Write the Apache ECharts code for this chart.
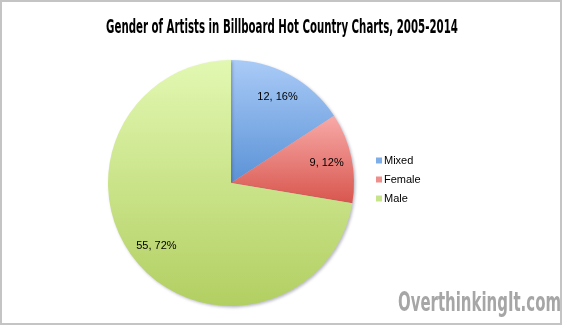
<!DOCTYPE html>
<html>
<head>
<meta charset="utf-8">
<script src="https://cdn.jsdelivr.net/npm/echarts@6/dist/echarts.min.js"></script>
<style>
html,body{margin:0;padding:0;background:#fff;}
#c{width:562px;height:325px;box-sizing:border-box;border:2px solid #c4c4c4;}
</style>
</head>
<body>
<div id="c"></div>
<script>
const categories = ['Mixed', 'Female', 'Male'];
const counts = [12, 9, 55];
const percents = [16, 12, 72];
const titleText = 'Gender of Artists in Billboard Hot Country Charts, 2005-2014';
const watermark = 'OverthinkingIt.com';

const gradients = [
  ['#aacbf7', '#5a92d6'],
  ['#f8aaa8', '#d8564e'],
  ['#e2f8b2', '#b2cf62']
];
const legendColors = ['#7eaee8', '#ef8f8b', '#c8e48a'];

function grad(c) {
  return new echarts.graphic.LinearGradient(0, 0, 0, 1, [
    {offset: 0, color: c[0]}, {offset: 1, color: c[1]}
  ]);
}

const chart = echarts.init(document.getElementById('c'), null, {renderer: 'canvas'});
const R = 123;
const center = [229, 181];
const condensed = "'DejaVu Sans', sans-serif";
chart.setOption({
  animation: false,
  legend: {
    orient: 'vertical',
    left: 374,
    top: 153,
    padding: 0,
    itemWidth: 6,
    itemHeight: 6,
    itemGap: 8,
    icon: 'rect',
    textStyle: {fontFamily: "'Liberation Sans', Arial, sans-serif", fontSize: 11, color: '#000', padding: [0, 0, 0, -3]},
    data: categories.map((n, i) => ({name: n, itemStyle: {color: legendColors[i]}}))
  },
  graphic: [
    {type: 'text', x: 280, y: 17, scaleX: 0.568, scaleY: 1.05,
     style: {text: titleText, font: "bold 18px " + condensed, fill: '#000', textAlign: 'center', textVerticalAlign: 'top'}},
    {type: 'text', x: 559, y: 289, scaleX: 0.575, scaleY: 1,
     style: {text: watermark, font: "bold 26px " + condensed, fill: '#a6a6a6', textAlign: 'right', textVerticalAlign: 'top'}}
  ],
  series: [
    {
      type: 'pie',
      center: center,
      radius: [0, R],
      startAngle: 90,
      clockwise: true,
      label: {show: false},
      labelLine: {show: false},
      emphasis: {disabled: true},
      data: categories.map((n, i) => ({
        name: n, value: counts[i],
        itemStyle: {color: grad(gradients[i]), shadowBlur: 3, shadowOffsetX: 1.5, shadowOffsetY: 1.5, shadowColor: 'rgba(60,60,90,0.35)'}
      }))
    },
    {
      type: 'pie',
      center: center,
      radius: [R * 0.54, R],
      startAngle: 90,
      clockwise: true,
      silent: true,
      legendHoverLink: false,
      itemStyle: {color: 'rgba(0,0,0,0)'},
      label: {
        show: true,
        position: 'inside',
        fontFamily: "'Liberation Sans', Arial, sans-serif",
        fontSize: 11,
        color: '#000',
        formatter: p => counts[p.dataIndex] + ', ' + percents[p.dataIndex] + '%'
      },
      labelLine: {show: false},
      emphasis: {disabled: true},
      data: categories.map((n, i) => ({name: n, value: counts[i]}))
    }
  ]
});
</script>
</body>
</html>
